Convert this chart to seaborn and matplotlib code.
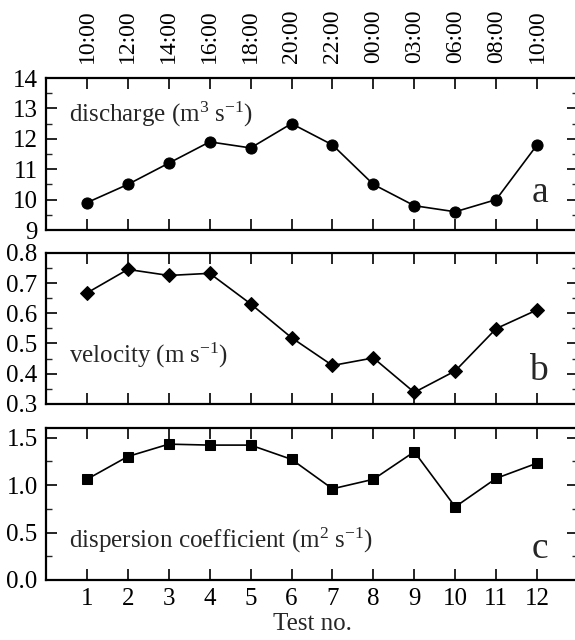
import matplotlib
matplotlib.use("Agg")
import matplotlib.pyplot as plt
from matplotlib.ticker import MultipleLocator
import seaborn as sns
import pandas as pd

# Test series
tests = [1, 2, 3, 4, 5, 6, 7, 8, 9, 10, 11, 12]
times = ["10:00", "12:00", "14:00", "16:00", "18:00", "20:00",
         "22:00", "00:00", "03:00", "06:00", "08:00", "10:00"]
discharge = [9.9, 10.5, 11.2, 11.9, 11.7, 12.5, 11.8, 10.5, 9.8, 9.6, 10.0, 11.8]
velocity = [0.667, 0.745, 0.725, 0.732, 0.631, 0.519, 0.427, 0.452, 0.338,
            0.409, 0.549, 0.611]
dispersion = [1.06, 1.30, 1.43, 1.42, 1.42, 1.27, 0.96, 1.06, 1.35, 0.77, 1.07, 1.23]

sns.set_style("ticks")
plt.rcParams["font.family"] = ["Liberation Serif", "DejaVu Serif"]
plt.rcParams["mathtext.fontset"] = "custom"
plt.rcParams["mathtext.rm"] = "Liberation Serif"
plt.rcParams["mathtext.it"] = "Liberation Serif:italic"
plt.rcParams["mathtext.default"] = "rm"

df = pd.DataFrame({"test": tests, "discharge": discharge,
                   "velocity": velocity, "dispersion": dispersion})

fig = plt.figure(figsize=(5.75, 6.4), dpi=100)
W = 532 / 575
L = 46 / 575
ax_a = fig.add_axes([L, 0.6406, W, 0.2375])
ax_b = fig.add_axes([L, 0.3690, W, 0.2360])
ax_c = fig.add_axes([L, 0.09375, W, 0.2375])

FS = 18

panels = [
    (ax_a, "discharge", "o", 8, (9, 14), 1, 0.5,
     "discharge (m$^3$ s$^{-1}$)", 12.56, "a", 9.92, "{x:.0f}"),
    (ax_b, "velocity", "D", 7.5, (0.3, 0.8), 0.1, 0.05,
     "velocity (m s$^{-1}$)", 0.436, "b", 0.379, "{x:.1f}"),
    (ax_c, "dispersion", "s", 7.5, (0.0, 1.6), 0.5, 0.25,
     "dispersion coefficient (m$^2$ s$^{-1}$)", 0.346, "c", 0.23, "{x:.1f}"),
]

for ax, col, mk, ms, ylim, major, minor, label, ly, letter, lety, fmt in panels:
    sns.lineplot(data=df, x="test", y=col, ax=ax, color="black", linewidth=1.2,
                 marker=mk, markersize=ms, markeredgecolor="black",
                 markerfacecolor="black")
    ax.set_xlim(0, 13)
    ax.set_ylim(*ylim)
    ax.set_xticks(tests)
    ax.yaxis.set_major_locator(MultipleLocator(major))
    ax.yaxis.set_minor_locator(MultipleLocator(minor))
    ax.yaxis.set_major_formatter(fmt)
    ax.set_xlabel("")
    ax.set_ylabel("")
    ax.tick_params(axis="both", which="major", direction="in", length=8,
                   width=1.2, top=True, right=True, labelsize=FS, pad=6,
                   colors="black")
    ax.tick_params(axis="y", which="minor", direction="in", length=4,
                   width=1.0, right=True)
    ax.tick_params(axis="x", labelbottom=False)
    for s in ax.spines.values():
        s.set_linewidth(1.6)
        s.set_color("black")
    ax.text(0.56, ly, label, fontsize=FS, ha="left", va="baseline")
    ax.text(12.27, lety, letter, fontsize=27, ha="right", va="baseline")

# time-of-day labels above the top panel
ax_a.tick_params(axis="x", labeltop=True, pad=11)
ax_a.set_xticklabels(times, rotation=90, fontsize=17)

# test number labels below the bottom panel
ax_c.tick_params(axis="x", labelbottom=True, pad=6)
ax_c.set_xlabel("Test no.", fontsize=FS, labelpad=2)

fig.savefig("out.png", dpi=100)
